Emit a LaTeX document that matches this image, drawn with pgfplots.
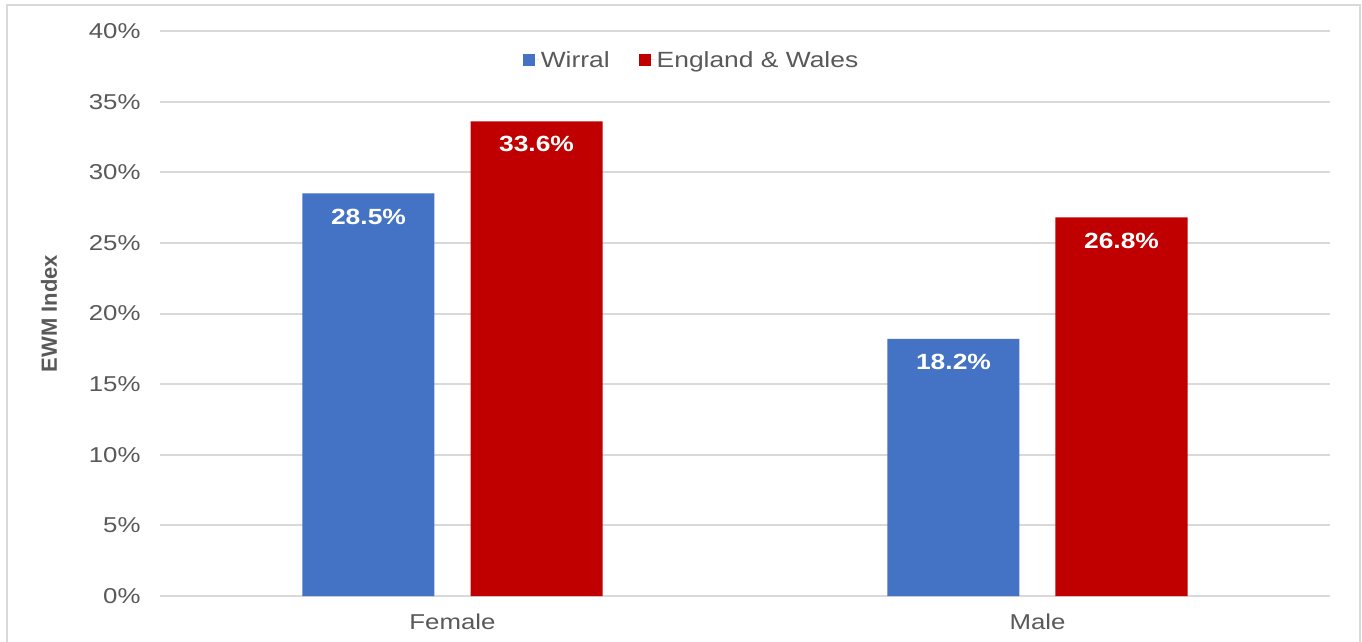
\documentclass[border=0pt]{standalone}
\usepackage{pgfplots}
\pgfplotsset{compat=1.18}
\usepackage{fontspec}
\setmainfont{Liberation Sans}[FakeStretch=1.2]
\newfontfamily\labfont{Liberation Sans}
\definecolor{wblue}{HTML}{4472C4}
\definecolor{ewred}{HTML}{C00000}
\definecolor{txt}{HTML}{595959}
\definecolor{gridc}{HTML}{D9D9D9}
\begin{document}
\begin{tikzpicture}[x=1pt,y=1pt]
\useasboundingbox (0,0) rectangle (1362,641);
\draw[gridc, line width=2pt] (7,-5) -- (7,636) -- (1360,636) -- (1360,-5);
\begin{axis}[
  at={(160pt,45pt)}, anchor=south west,
  scale only axis, width=1170pt, height=565pt,
  ybar=36pt, bar width=132pt,
  xmin=-0.5, xmax=1.5, ymin=0, ymax=40,
  enlargelimits=false,
  xtick={0,1}, xticklabels={Female,Male},
  ytick={0,5,...,40},
  yticklabel={\pgfmathprintnumber{\tick}\%},
  /pgf/number format/assume math mode=true,
  ymajorgrids, grid style={gridc, line width=2pt},
  axis line style={draw=none},
  major tick length=0pt, tick style={draw=none},
  tick label style={font=\fontsize{21.5}{24}\selectfont, text=txt},
  yticklabel style={xshift=-16pt},
  xticklabel style={yshift=-14pt},
  ylabel={EWM Index},
  ylabel style={at={(axis description cs:-0.0949,0.5)}, anchor=center,
    font=\labfont\bfseries\fontsize{22}{24}\selectfont, text=txt},
  legend style={at={(axis description cs:0.4543,0.9487)}, anchor=center,
    draw=none, fill=none, font=\fontsize{22}{24}\selectfont, text=txt,
    /tikz/every even column/.append style={column sep=27pt}},
  legend columns=2,
  legend image code/.code={\fill[#1] (0pt,-6pt) rectangle (12pt,6pt); \path (0pt,0pt) -- (16pt,0pt);},
  nodes near coords={\pgfmathprintnumber[fixed,fixed zerofill,precision=1]{\pgfplotspointmeta}\%},
  every node near coord/.append style={font=\bfseries\fontsize{22}{24}\selectfont,
    text=white, anchor=north, inner sep=0pt, yshift=-15pt},
]
\addplot[fill=wblue, draw=none] coordinates {(0,28.5) (1,18.2)};
\addplot[fill=ewred, draw=none] coordinates {(0,33.6) (1,26.8)};
\legend{Wirral, England \& Wales}
\end{axis}
\end{tikzpicture}
\end{document}
